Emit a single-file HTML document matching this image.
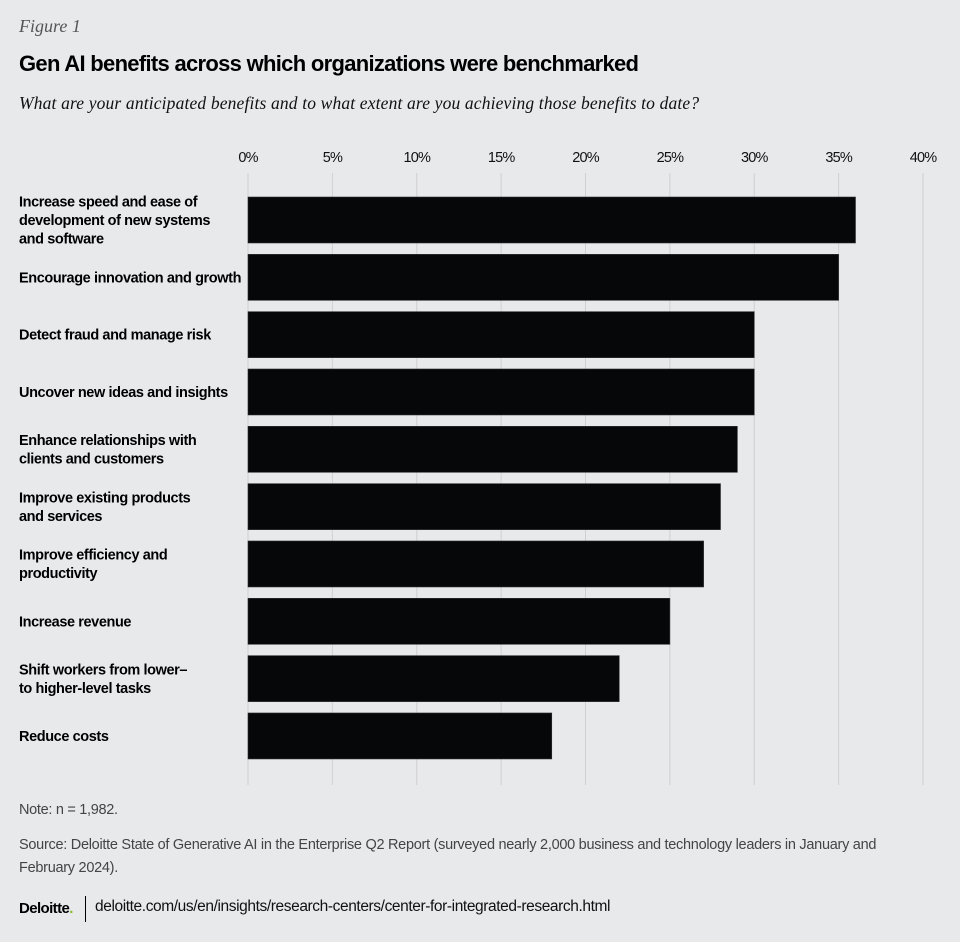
<!DOCTYPE html>
<html><head><meta charset="utf-8"><style>
body{margin:0;background:#e8e9eb;width:960px;height:942px;overflow:hidden;font-family:"Liberation Sans",sans-serif;}
.abs{position:absolute;white-space:nowrap;}
</style></head><body>
<div class="abs" style="left:19px;top:16px;font-family:'Liberation Serif',serif;font-style:italic;font-size:18px;color:#555;">Figure 1</div>
<div class="abs" style="left:19px;top:51px;font-weight:bold;font-size:22px;letter-spacing:-0.7px;color:#000;">Gen AI benefits across which organizations were benchmarked</div>
<div class="abs" style="left:19px;top:93px;font-family:'Liberation Serif',serif;font-style:italic;font-size:17.5px;letter-spacing:0.15px;color:#111;">What are your anticipated benefits and to what extent are you achieving those benefits to date?</div>
<svg id="chart" width="960" height="800" style="position:absolute;left:0;top:0"></svg>
<div class="abs" style="left:19px;top:802px;font-size:14.5px;color:#444;letter-spacing:-0.3px;">Note: n = 1,982.</div>
<div class="abs" style="left:19px;top:834px;font-size:14.5px;color:#444;letter-spacing:-0.28px;line-height:23px;">Source: Deloitte State of Generative AI in the Enterprise Q2 Report (surveyed nearly 2,000 business and technology leaders in January and<br>February 2024).</div>
<div class="abs" style="left:19px;top:900px;font-weight:bold;font-size:15px;letter-spacing:-0.6px;color:#000;">Deloitte<span style="color:#86bc25">.</span></div>
<div class="abs" style="left:85px;top:896px;width:1px;height:26px;background:#000;"></div>
<div class="abs" style="left:95px;top:898px;font-size:15.5px;color:#111;letter-spacing:-0.4px;">deloitte.com/us/en/insights/research-centers/center-for-integrated-research.html</div>
<script>
const categories=[["Increase speed and ease of","development of new systems","and software"],["Encourage innovation and growth"],["Detect fraud and manage risk"],["Uncover new ideas and insights"],["Enhance relationships with","clients and customers"],["Improve existing products","and services"],["Improve efficiency and","productivity"],["Increase revenue"],["Shift workers from lower–","to higher-level tasks"],["Reduce costs"]];
const values=[36,35,30,30,29,28,27,25,22,18];
const ticks=[0,5,10,15,20,25,30,35,40];
const tickLabels=["0%","5%","10%","15%","20%","25%","30%","35%","40%"];
const NS="http://www.w3.org/2000/svg";
const svg=document.getElementById('chart');
const x=v=>248+v*(923-248)/40;
const yTop=i=>197+i*57.33;
const bh=46;
function mk(t,a){const e=document.createElementNS(NS,t);for(const k in a)e.setAttribute(k,a[k]);svg.appendChild(e);return e;}
ticks.forEach((t,i)=>{
 const l=mk('line',{x1:x(t),x2:x(t),y1:173,y2:785,stroke:'#cfd0d3','stroke-width':1});
 
 
 const tx=mk('text',{x:x(t),y:162,'text-anchor':'middle','font-size':14.5,fill:'#111','letter-spacing':'-0.8'});
 
 
 tx.textContent=tickLabels[i];
});
values.forEach((v,i)=>{
 const r=mk('rect',{x:x(0),y:yTop(i),width:x(v)-x(0),height:bh,fill:'#050708',stroke:'#333','stroke-width':0.6});
 
 
 const lines=categories[i];
 const cy=yTop(i)+bh/2;
 const lh=18.5;
 lines.forEach((s,j)=>{
  const t=mk('text',{x:19,y:cy+(j-(lines.length-1)/2)*lh+5,'font-size':14.5,'font-weight':'bold',fill:'#000','letter-spacing':'-0.4'});
  
  
  t.textContent=s;
 });
});
</script>
</body></html>
